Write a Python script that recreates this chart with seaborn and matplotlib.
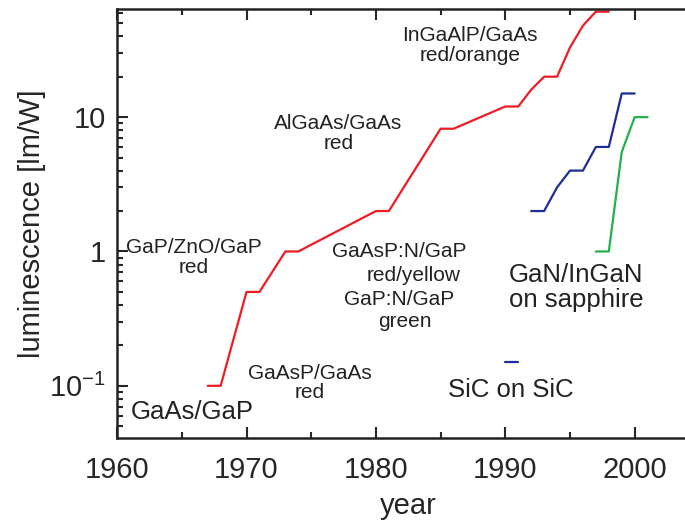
import numpy as np
import pandas as pd
import matplotlib
matplotlib.use("Agg")
import matplotlib.pyplot as plt
import matplotlib.ticker as mticker
import seaborn as sns

# ── Data ─────────────────────────────────────────────────────────────────────
red_year  = [1967, 1968, 1970, 1971, 1973, 1974, 1980, 1981, 1985, 1986,
             1990, 1991, 1992, 1993, 1994, 1995, 1996, 1997, 1998]
red_lm    = [0.1, 0.1, 0.5, 0.5, 1.0, 1.0, 2.0, 2.0, 8.2, 8.2,
             12, 12, 16, 20, 20, 33, 48, 61, 61]

blue_year = [1992, 1993, 1994, 1995, 1996, 1997, 1998, 1999, 2000]
blue_lm   = [2, 2, 3, 4, 4, 6, 6, 15, 15]

green_year = [1997, 1998, 1999, 2000, 2001]
green_lm   = [1, 1, 5.5, 10, 10]

sic_year = [1990, 1991]
sic_lm   = [0.15, 0.15]

RED   = "#ee1c25"
BLUE  = "#1f2d96"
GREEN = "#23b14d"

sns.set_style("ticks")
plt.rcParams["font.family"] = ["Liberation Sans", "DejaVu Sans"]
plt.rcParams["mathtext.default"] = "regular"

fig = plt.figure(figsize=(6.85, 5.2), dpi=100)
ax = fig.add_axes([0.171, 0.158, 0.85, 0.825])

for xs, ys, col in [(red_year, red_lm, RED), (blue_year, blue_lm, BLUE),
                    (green_year, green_lm, GREEN), (sic_year, sic_lm, BLUE)]:
    df = pd.DataFrame({"year": xs, "lm": ys})
    sns.lineplot(data=df, x="year", y="lm", color=col, lw=1.6,
                 estimator=None, sort=False, ax=ax)

ax.set_yscale("log")
ax.set_xlim(1960, 2005)
ax.set_ylim(0.041, 64)

ax.set_xticks([1960, 1970, 1980, 1990, 2000])
ax.xaxis.set_minor_locator(mticker.MultipleLocator(5))
ax.set_yticks([0.1, 1, 10])
ax.set_yticklabels(["10$^{-1}$", "1", "10"])
ax.yaxis.set_minor_locator(mticker.LogLocator(base=10, subs=np.arange(2, 10)))
ax.yaxis.set_minor_formatter(mticker.NullFormatter())

ax.tick_params(which="both", direction="in", top=True, right=False,
               width=1.5, labelsize=21)
ax.tick_params(axis="x", pad=13)
ax.tick_params(axis="y", pad=8)
ax.tick_params(which="major", length=8)
ax.tick_params(which="minor", length=4)
for side in ["left", "bottom", "top"]:
    ax.spines[side].set_linewidth(1.8)
    ax.spines[side].set_color("#222222")
ax.spines["right"].set_visible(False)

ax.set_xlabel("year", fontsize=21, labelpad=6)
ax.set_ylabel("luminescence [lm/W]", fontsize=21, labelpad=2)

# annotations: (text, year, lm, size, ha)
notes = [
    ("InGaAlP/GaAs\nred/orange", 1987.3, 34, 15, "center"),
    ("AlGaAs/GaAs\nred", 1977.1, 7.6, 15, "center"),
    ("GaP/ZnO/GaP\nred", 1965.9, 0.9, 15, "center"),
    ("GaAsP:N/GaP", 1981.8, 1.0, 15, "center"),
    ("red/yellow", 1982.9, 0.66, 15, "center"),
    ("GaP:N/GaP", 1981.8, 0.44, 15, "center"),
    ("green", 1982.2, 0.30, 15, "center"),
    ("GaAsP/GaAs\nred", 1974.9, 0.105, 15, "center"),
    ("GaAs/GaP", 1965.8, 0.064, 18.5, "center"),
    ("GaN/InGaN\non sapphire", 1990.3, 0.54, 18.5, "left"),
    ("SiC on SiC", 1990.4, 0.093, 18.5, "center"),
]
for txt, x, y, size, ha in notes:
    ax.text(x, y, txt, fontsize=size, ha=ha, va="center",
            color="#222222", linespacing=1.05)

fig.savefig("out.png", dpi=100)
